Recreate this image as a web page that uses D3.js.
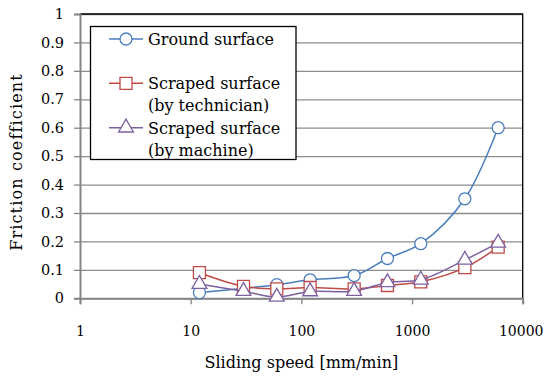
<!DOCTYPE html>
<html>
<head>
<meta charset="utf-8">
<script src="https://cdn.jsdelivr.net/npm/d3@7"></script>
<style>
  body { margin: 0; background: #fff; }
  text { font-family: "DejaVu Serif", serif; fill: #000; }
</style>
</head>
<body>
<svg id="chart" width="544" height="376"></svg>
<script>
// data
var speeds = [12, 30, 60, 120, 300, 600, 1200, 3000, 6000];
var ground = [0.02, 0.035, 0.048, 0.065, 0.08, 0.14, 0.192, 0.35, 0.6];
var technician = [0.09, 0.042, 0.033, 0.038, 0.033, 0.045, 0.058, 0.108, 0.18];
var machine = [0.05, 0.025, 0.005, 0.024, 0.025, 0.056, 0.065, 0.135, 0.195];

var xTicks = [1, 10, 100, 1000, 10000];
var xTickLabels = ["1", "10", "100", "1000", "10000"];
var yTicks = [0, 0.1, 0.2, 0.3, 0.4, 0.5, 0.6, 0.7, 0.8, 0.9, 1];
var yTickLabels = ["0", "0.1", "0.2", "0.3", "0.4", "0.5", "0.6", "0.7", "0.8", "0.9", "1"];

var seriesNames = [["Ground surface"], ["Scraped surface", "(by technician)"], ["Scraped surface", "(by machine)"]];
var seriesValues = [ground, technician, machine];
var seriesColors = ["#4A7EBB", "#BE4B48", "#7D60A0"];
var seriesSymbols = [d3.symbolCircle, d3.symbolSquare, d3.symbolTriangle];
var symbolSizes = [113, 144, 95];

var plotL = 80, plotR = 522.7, plotT = 14, plotB = 298.3;

var svg = d3.select("#chart");

var x = d3.scaleLog().domain([1, 10000]).range([plotL, plotR]);
var y = d3.scaleLinear().domain([0, 1]).range([plotB, plotT]);

// gridlines
svg.append("g")
  .attr("transform", "translate(" + plotL + ",0)")
  .call(d3.axisLeft(y).tickValues(yTicks).tickSize(-(plotR - plotL)).tickFormat(""))
  .call(function(g) { g.select(".domain").remove(); })
  .selectAll("line").attr("stroke", "#8c8c8c").attr("stroke-width", 1.3);

// frame top/right
svg.append("path")
  .attr("d", "M" + plotL + "," + plotT + "H" + plotR + "V" + plotB)
  .attr("fill", "none").attr("stroke", "#000").attr("stroke-width", 1.3);

// y axis
var yAxis = svg.append("g")
  .attr("transform", "translate(" + plotL + ",0)")
  .call(d3.axisLeft(y).tickValues(yTicks).tickSize(6).tickPadding(10)
    .tickFormat(function(d, i) { return yTickLabels[i]; }));
yAxis.select(".domain").attr("stroke", "#868686").attr("stroke-width", 2);
yAxis.selectAll("line").attr("stroke", "#868686").attr("stroke-width", 1.3);
yAxis.selectAll("text").style("font-family", "DejaVu Serif").style("font-size", "14.5px").attr("fill", "#000");

// x axis
var xAxis = svg.append("g")
  .attr("transform", "translate(0," + plotB + ")")
  .call(d3.axisBottom(x).tickValues(xTicks).tickSize(6).tickPadding(22)
    .tickFormat(function(d, i) { return xTickLabels[i]; }));
xAxis.select(".domain").attr("stroke", "#868686").attr("stroke-width", 2);
xAxis.selectAll("line").attr("stroke", "#868686").attr("stroke-width", 1.3);
xAxis.selectAll("text").style("font-family", "DejaVu Serif").style("font-size", "14px").attr("fill", "#000")
  .attr("dx", function(d) { return d === 10000 ? -2 : 0; });

// axis titles
svg.append("text")
  .attr("x", (plotL + plotR) / 2).attr("y", 368)
  .attr("text-anchor", "middle")
  .style("font-size", "16px")
  .text("Sliding speed [mm/min]");

svg.append("text")
  .attr("transform", "translate(22,162) rotate(-90)")
  .attr("text-anchor", "middle")
  .style("font-size", "16px")
  .style("letter-spacing", "1.15px")
  .text("Friction coefficient");

// series
var line = d3.line()
  .x(function(d) { return x(d[0]); })
  .y(function(d) { return y(d[1]); })
  .curve(d3.curveCatmullRom.alpha(0.5));

seriesValues.forEach(function(vals, s) {
  var pts = speeds.map(function(v, i) { return [v, vals[i]]; });
  var g = svg.append("g");
  g.append("path")
    .attr("d", line(pts))
    .attr("fill", "none")
    .attr("stroke", seriesColors[s])
    .attr("stroke-width", 1.5);
  g.selectAll("path.m").data(pts).enter().append("path")
    .attr("class", "m")
    .attr("transform", function(d) { return "translate(" + x(d[0]) + "," + y(d[1]) + ")"; })
    .attr("d", d3.symbol().type(seriesSymbols[s]).size(symbolSizes[s]))
    .attr("fill", "#fff")
    .attr("stroke", seriesColors[s])
    .attr("stroke-width", 1.3);
});

// legend
svg.append("rect")
  .attr("x", 90.5).attr("y", 26.5).attr("width", 205.5).attr("height", 133)
  .attr("fill", "#fff").attr("stroke", "#000").attr("stroke-width", 1.3);

var legendY = [39, 83.3, 127.7];
seriesNames.forEach(function(lines, s) {
  var ly = legendY[s];
  svg.append("line")
    .attr("x1", 109).attr("x2", 143).attr("y1", ly).attr("y2", ly)
    .attr("stroke", seriesColors[s]).attr("stroke-width", 1.5);
  svg.append("path")
    .attr("transform", "translate(126," + ly + ")")
    .attr("d", d3.symbol().type(seriesSymbols[s]).size(symbolSizes[s]))
    .attr("fill", "#fff").attr("stroke", seriesColors[s]).attr("stroke-width", 1.3);
  lines.forEach(function(t, k) {
    svg.append("text")
      .attr("x", 148).attr("y", ly + 6 + k * 22)
      .style("font-size", "16px")
      .text(t);
  });
});
</script>
</body>
</html>
